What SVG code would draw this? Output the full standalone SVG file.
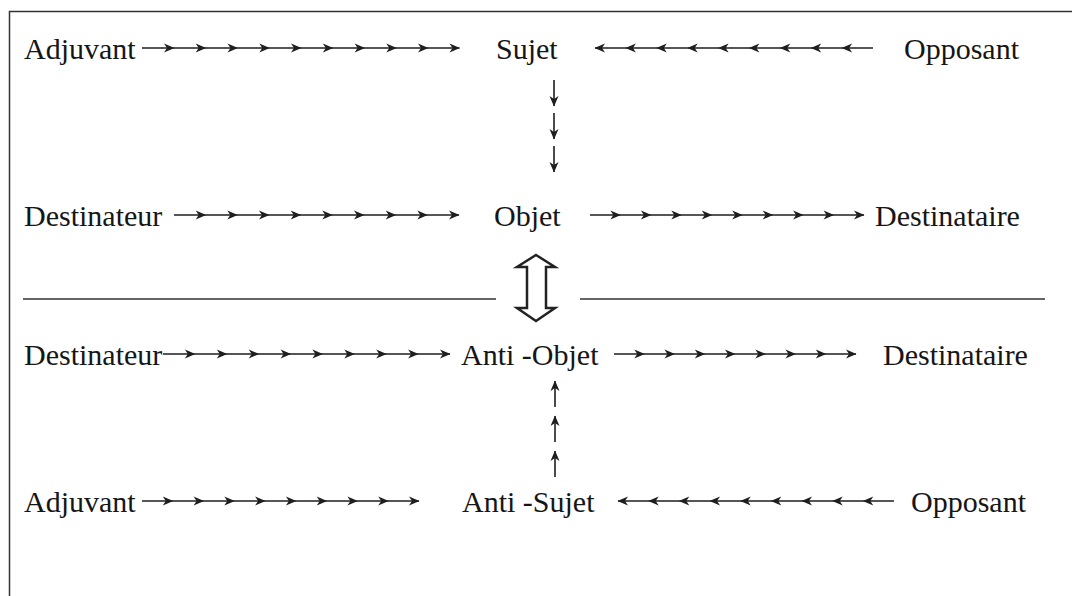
<svg xmlns="http://www.w3.org/2000/svg" width="1072" height="596" viewBox="0 0 1072 596">
<defs>
<marker id="ah" markerUnits="userSpaceOnUse" orient="auto" overflow="visible" markerWidth="1" markerHeight="1" refX="0" refY="0">
<path d="M0.5,0 L-10,-4.5 L-7,0 L-10,4.5 Z" fill="#1e1e1e" stroke="none"/>
</marker>
</defs>
<style>
text{font-family:"Liberation Serif","Times New Roman",serif;font-size:30px;fill:#161616}
.frame{stroke:#333;stroke-width:1.5;fill:none}
.rule{stroke:#333;stroke-width:1.6;fill:none}
.dbl{stroke:#222;stroke-width:2.5;fill:#fff;stroke-linejoin:miter}
.arr{stroke:#1e1e1e;stroke-width:1.6;fill:none;marker-mid:url(#ah);marker-end:url(#ah)}
</style>
<rect width="1072" height="596" fill="#fff"/>
<g id="frame">
<path class="frame" d="M9.5,596 V11.5 H1072"/>
</g>
<g id="adjuvant1"><text x="24" y="59">Adjuvant</text></g>
<g id="sujet"><text x="496" y="59">Sujet</text></g>
<g id="opposant1"><text x="904" y="59">Opposant</text></g>
<g id="destinateur1"><text x="24" y="226">Destinateur</text></g>
<g id="objet"><text x="494" y="226">Objet</text></g>
<g id="destinataire1"><text x="875" y="226">Destinataire</text></g>
<g id="destinateur2"><text x="24" y="365">Destinateur</text></g>
<g id="anti-objet"><text x="461" y="365">Anti -Objet</text></g>
<g id="destinataire2"><text x="883" y="365">Destinataire</text></g>
<g id="adjuvant2"><text x="24" y="512">Adjuvant</text></g>
<g id="anti-sujet"><text x="462" y="512">Anti -Sujet</text></g>
<g id="opposant2"><text x="911" y="512">Opposant</text></g>
<g id="connectors">
<path class="arr" d="M142,48 H174 H205.7 H237.5 H269.3 H301 H332.8 H364.6 H396.3 H428 H459.5"/>
<path class="arr" d="M873,48 H842.1 H811.2 H780.3 H749.4 H718.6 H687.7 H656.8 H625.9 H595"/>
<path class="arr" d="M554,80 V106"/>
<path class="arr" d="M554,113 V139"/>
<path class="arr" d="M554,146 V172"/>
<path class="arr" d="M174,215 H205.7 H237.3 H269 H300.7 H332.3 H364 H395.7 H427.3 H459"/>
<path class="arr" d="M590,215 H620.4 H650.9 H681.3 H711.8 H742.2 H772.7 H803.1 H833.6 H864"/>
<path class="arr" d="M163,354 H194.9 H226.8 H258.7 H290.6 H322.4 H354.3 H386.2 H418.1 H450"/>
<path class="arr" d="M614,354 H644.3 H674.5 H704.8 H735 H765.3 H795.5 H825.8 H856"/>
<path class="arr" d="M555,407 V381"/>
<path class="arr" d="M555,442 V416"/>
<path class="arr" d="M555,477 V451"/>
<path class="arr" d="M142,501 H172.8 H203.6 H234.3 H265.1 H295.9 H326.7 H357.4 H388.2 H419"/>
<path class="arr" d="M894,501 H863.3 H832.7 H802 H771.3 H740.7 H710 H679.3 H648.7 H618"/>
<path class="rule" d="M23,299 H496 M580,299 H1045"/>
<path class="dbl" d="M536,255 L555,267 L546,267 L546,308 L555,308 L536,321 L517,308 L527,308 L527,267 L517,267 Z"/>
</g>
</svg>
